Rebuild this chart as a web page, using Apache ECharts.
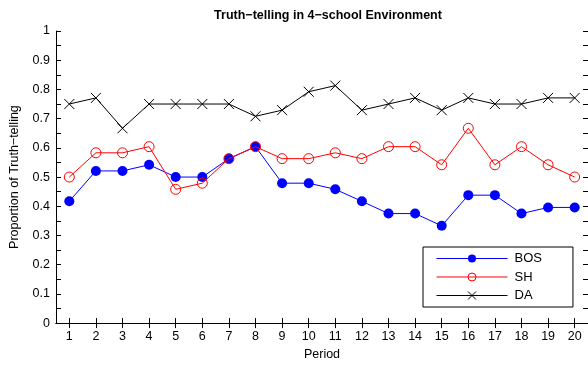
<!DOCTYPE html>
<html>
<head>
<meta charset="utf-8">
<script src="https://cdn.jsdelivr.net/npm/echarts@6/dist/echarts.min.js"></script>
<style>
  html, body { margin: 0; padding: 0; background: #fff; overflow: hidden; }
  #chart { width: 588px; height: 366px; }
</style>
</head>
<body>
<div id="chart"></div>
<script>
// Periods of the experiment
const periods = ['1','2','3','4','5','6','7','8','9','10','11','12','13','14','15','16','17','18','19','20'];

// Proportion of truth-telling per period, by mechanism
const bosValues = [0.417, 0.521, 0.521, 0.542, 0.500, 0.500, 0.563, 0.604, 0.479, 0.479,
                   0.458, 0.417, 0.375, 0.375, 0.333, 0.438, 0.438, 0.375, 0.396, 0.396];
const shValues  = [0.500, 0.583, 0.583, 0.604, 0.458, 0.479, 0.563, 0.604, 0.563, 0.563,
                   0.583, 0.563, 0.604, 0.604, 0.542, 0.667, 0.542, 0.604, 0.542, 0.500];
const daValues  = [0.750, 0.771, 0.667, 0.750, 0.750, 0.750, 0.750, 0.708, 0.729, 0.792,
                   0.813, 0.729, 0.750, 0.771, 0.729, 0.771, 0.750, 0.750, 0.771, 0.771];

const yTickLabels = ['0','0.1','0.2','0.3','0.4','0.5','0.6','0.7','0.8','0.9','1'];

const FONT = 'Liberation Sans, Arial, Helvetica, sans-serif';
const crossPath = 'path://M0,0L10,10M10,0L0,10';

const chart = echarts.init(document.getElementById('chart'), null, { renderer: 'canvas' });

const tickStyle = { show: true, inside: true, length: 5, lineStyle: { color: '#000', width: 1 } };
const minorTickStyle = { show: true, splitNumber: 2, length: 5, lineStyle: { color: '#000', width: 1 } };
const axisLine = { show: true, lineStyle: { color: '#000', width: 1 } };

chart.setOption({
  animation: false,
  backgroundColor: '#fff',
  title: {
    text: 'Truth\u2212telling in 4\u2212school Environment',
    left: 323, top: 4, textAlign: 'center',
    textStyle: { fontFamily: FONT, fontSize: 12.5, fontWeight: 'bold', color: '#000' }
  },
  grid: { left: 55, top: 31, width: 535, height: 296, containLabel: false },
  legend: {
    orient: 'vertical',
    left: 423, top: 247,
    padding: [5, 31, 5, 13],
    itemWidth: 71, itemHeight: 10, itemGap: 5.5,
    borderColor: '#000', borderWidth: 1, borderRadius: 0,
    backgroundColor: '#fff',
    lineStyle: { width: 1 },
    itemStyle: { borderWidth: 1 },
    textStyle: { fontFamily: FONT, fontSize: 13, color: '#000', padding: [0, 0, 0, 2] },
    data: ['BOS', 'SH', 'DA']
  },
  xAxis: [{
    type: 'category', data: periods, boundaryGap: true,
    name: 'Period', nameLocation: 'middle', nameGap: 24,
    nameTextStyle: { fontFamily: FONT, fontSize: 12.5, color: '#000' },
    axisLine: axisLine,
    axisTick: Object.assign({ alignWithLabel: true }, tickStyle),
    axisLabel: { fontFamily: FONT, fontSize: 12.5, color: '#000', margin: 7, interval: 0 },
    splitLine: { show: false }
  }, {
    type: 'category', data: periods, boundaryGap: true, position: 'top',
    axisLine: axisLine,
    axisTick: Object.assign({ alignWithLabel: true }, tickStyle),
    axisLabel: { show: false },
    splitLine: { show: false }
  }],
  yAxis: [{
    type: 'value', min: 0, max: 1, interval: 0.1,
    name: 'Proportion of Truth\u2212telling', nameLocation: 'middle', nameGap: 35,
    nameTextStyle: { fontFamily: FONT, fontSize: 12.5, color: '#000' },
    axisLine: axisLine,
    axisTick: tickStyle,
    minorTick: minorTickStyle,
    axisLabel: {
      fontFamily: FONT, fontSize: 12.5, color: '#000', margin: 6,
      formatter: function (v) { return yTickLabels[Math.round(v * 10)]; }
    },
    splitLine: { show: false }
  }, {
    type: 'value', min: 0, max: 1, interval: 0.1, position: 'right',
    axisLine: axisLine,
    axisTick: tickStyle,
    minorTick: minorTickStyle,
    axisLabel: { show: false },
    splitLine: { show: false }
  }],
  series: [{
    name: 'BOS', type: 'line', data: bosValues,
    color: '#0000ff',
    symbol: 'circle', symbolSize: 10, showAllSymbol: true,
    lineStyle: { color: '#0000ff', width: 1 },
    itemStyle: { color: '#0000ff', borderWidth: 0 },
    z: 3
  }, {
    name: 'SH', type: 'line', data: shValues,
    color: '#ff0000',
    symbol: 'circle', symbolSize: 10, showAllSymbol: true,
    lineStyle: { color: '#ff0000', width: 1 },
    itemStyle: { color: 'none', borderColor: '#ff0000', borderWidth: 1 },
    z: 4
  }, {
    name: 'DA', type: 'line', data: daValues,
    color: '#000',
    symbol: crossPath, symbolSize: 10, showAllSymbol: true,
    lineStyle: { color: '#000', width: 1 },
    itemStyle: { color: 'none', borderColor: '#000', borderWidth: 1 },
    z: 5
  }]
});
</script>
</body>
</html>
